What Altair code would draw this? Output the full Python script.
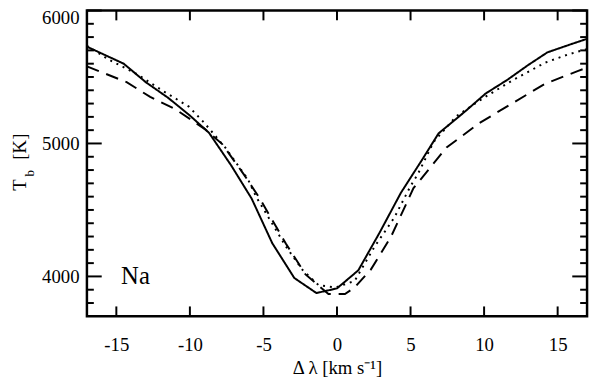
import altair as alt
import pandas as pd

# ---- data ----
solid_x = [-17, -14.5, -13, -11.5, -10, -8.7, -7.2, -5.8, -4.4, -2.9, -1.4, 0, 1.45, 2.9,
           4.35, 5.8, 6.9, 8.7, 10.1, 11.6, 13, 14.3, 16, 17]
solid_T = [5728, 5600, 5461, 5345, 5210, 5080, 4836, 4585, 4250, 3988, 3875, 3910, 4046, 4330,
           4630, 4880, 5075, 5240, 5375, 5480, 5590, 5685, 5750, 5787]

dotted_x = [-17, -15.5, -13.6, -11.9, -10.07, -9.06, -7.6, -6.05, -5.5, -3.5, -2.36, -1.25,
            -0.1, 1.2, 2.55, 3.9, 5.0, 5.5, 6.56, 8.1, 9.9, 11.9, 14.15, 15.7, 17]
dotted_T = [5735, 5630, 5522, 5400, 5277, 5160, 4970, 4730, 4600, 4230, 4051, 3934,
            3917, 3966, 4223, 4443, 4680, 4770, 5010, 5204, 5338, 5473, 5608, 5669, 5710]

dashed_x = [-17, -14.3, -12.7, -11, -9, -7.8, -6.3, -5.27, -3.48, -2.14, -0.58, 0.54, 1.2,
            2.3, 3.66, 5.2, 7.45, 9.69, 11.9, 14.15, 16.4, 17]
dashed_T = [5580, 5461, 5350, 5258, 5110, 4995, 4762, 4590, 4248, 4015, 3868, 3868, 3917,
            4051, 4296, 4664, 4970, 5154, 5301, 5449, 5546, 5570]

x_ticks = [-15, -10, -5, 0, 5, 10, 15]
y_major = [4000, 5000, 6000]
y_minor = [3800, 3900, 4100, 4200, 4300, 4400, 4500, 4600, 4700, 4800, 4900,
           5100, 5200, 5300, 5400, 5500, 5600, 5700, 5800, 5900]

label_x = [-13.7]
label_T = [4000]
label_text = ["Na"]

x_title = "Δ λ  [km s⁻¹]"

# ---- tables ----
rows = []
for name, xs, ts in [("solid", solid_x, solid_T), ("dotted", dotted_x, dotted_T),
                     ("dashed", dashed_x, dashed_T)]:
    for i, (xv, tv) in enumerate(zip(xs, ts)):
        rows.append({"series": name, "x": xv, "T": tv, "order": i})
df = pd.DataFrame(rows)

W, H = 507, 310
FONT = "Liberation Serif"

xscale = alt.Scale(domain=[-17, 17], nice=False, zero=False)
yscale = alt.Scale(domain=[3700, 6000], nice=False, zero=False)

lines = alt.Chart(df).mark_line(color="black", strokeWidth=2, clip=True, strokeCap="butt").encode(
    x=alt.X("x:Q", scale=xscale,
            axis=alt.Axis(values=x_ticks, title=x_title, labelExpr="'' + datum.value",
                          ticks=False, domain=False, grid=False,
                          labelFont=FONT, labelFontSize=19, labelPadding=20, labelColor="black",
                          titleFont=FONT, titleFontSize=19, titleFontWeight="normal",
                          titleColor="black", titlePadding=4)),
    y=alt.Y("T:Q", scale=yscale,
            axis=alt.Axis(values=y_major, title=None, ticks=False, domain=False, grid=False,
                          format="d",
                          labelFont=FONT, labelFontSize=19, labelPadding=8, labelColor="black",
                          labelFlush=True, labelFlushOffset=2)),
    strokeDash=alt.StrokeDash("series:N",
                              scale=alt.Scale(domain=["solid", "dotted", "dashed"],
                                              range=[[1, 0], [2, 5], [13, 8]]),
                              legend=None),
    order=alt.Order("order:Q"),
)

xt = pd.DataFrame({"v": x_ticks})
ymj = pd.DataFrame({"v": y_major})
ymn = pd.DataFrame({"v": y_minor})

tick_style = dict(color="black", strokeWidth=2)
bottom_ticks = alt.Chart(xt).mark_rule(**tick_style).encode(
    x=alt.X("v:Q", scale=xscale, axis=None), y=alt.value(H), y2=alt.value(H - 10))
top_ticks = alt.Chart(xt).mark_rule(**tick_style).encode(
    x=alt.X("v:Q", scale=xscale, axis=None), y=alt.value(0), y2=alt.value(10))
left_major = alt.Chart(ymj).mark_rule(**tick_style).encode(
    y=alt.Y("v:Q", scale=yscale, axis=None), x=alt.value(0), x2=alt.value(15))
right_major = alt.Chart(ymj).mark_rule(**tick_style).encode(
    y=alt.Y("v:Q", scale=yscale, axis=None), x=alt.value(W), x2=alt.value(W - 15))
left_minor = alt.Chart(ymn).mark_rule(**tick_style).encode(
    y=alt.Y("v:Q", scale=yscale, axis=None), x=alt.value(0), x2=alt.value(7))
right_minor = alt.Chart(ymn).mark_rule(**tick_style).encode(
    y=alt.Y("v:Q", scale=yscale, axis=None), x=alt.value(W), x2=alt.value(W - 7))

na = alt.Chart(pd.DataFrame({"x": label_x, "T": label_T, "t": label_text})).mark_text(
    font=FONT, fontSize=25, color="black", align="center", baseline="middle").encode(
    x=alt.X("x:Q", scale=xscale, axis=None), y=alt.Y("T:Q", scale=yscale, axis=None), text="t:N")

ytitle_T = alt.Chart(pd.DataFrame({"t": ["T"]})).mark_text(
    font=FONT, fontSize=19, color="black", angle=270, align="center", baseline="middle").encode(
    text="t:N", x=alt.value(-68), y=alt.value(177))
ytitle_b = alt.Chart(pd.DataFrame({"t": ["b"]})).mark_text(
    font=FONT, fontSize=13, color="black", angle=270, align="center", baseline="middle").encode(
    text="t:N", x=alt.value(-58), y=alt.value(165))
ytitle_K = alt.Chart(pd.DataFrame({"t": ["[K]"]})).mark_text(
    font=FONT, fontSize=19, color="black", angle=270, align="center", baseline="middle").encode(
    text="t:N", x=alt.value(-68), y=alt.value(138))

chart = alt.layer(
    lines, bottom_ticks, top_ticks, left_major, right_major, left_minor, right_minor,
    na, ytitle_T, ytitle_b, ytitle_K
).resolve_axis(x="independent", y="independent").properties(
    width=W, height=H,
    padding={"left": 80, "top": 0, "right": 5, "bottom": 60},
    autosize=alt.AutoSizeParams(type="none"),
    background="white",
).configure_view(stroke="black", strokeWidth=2.5).configure_axis(
    labelFont=FONT, titleFont=FONT)

chart.save("out.html", embed_options={"renderer": "svg", "actions": False})
